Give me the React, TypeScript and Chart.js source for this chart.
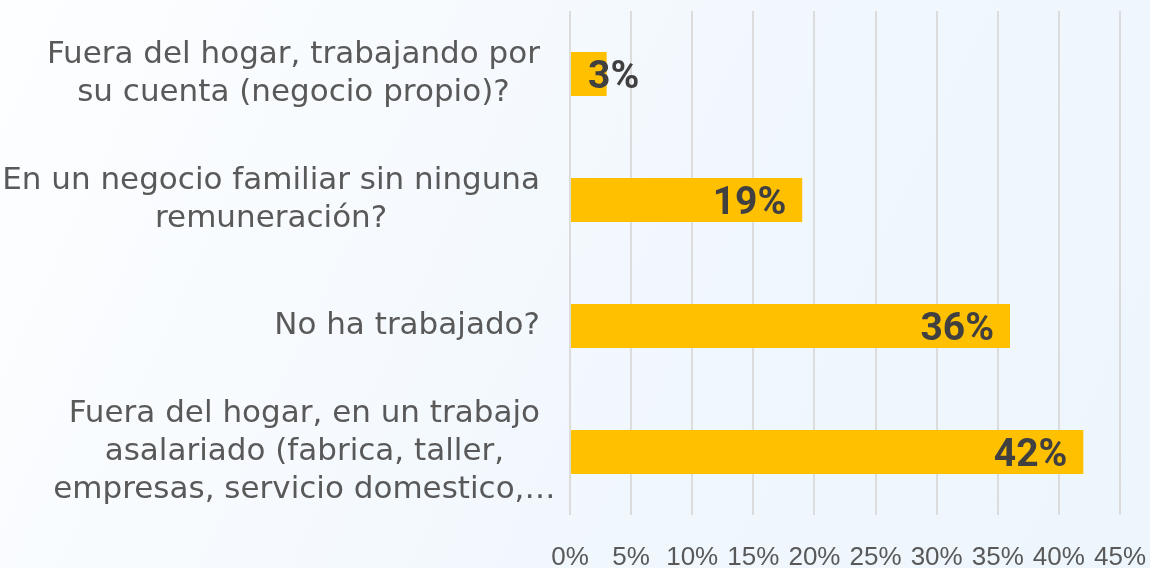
import { useEffect, useRef } from "react";
import { Chart, registerables } from "chart.js";

Chart.register(...registerables);

const categories: string[][] = [
  ["Fuera del hogar, trabajando por", "su cuenta (negocio propio)?"],
  ["En un negocio familiar sin ninguna", "remuneración?"],
  ["No ha trabajado?"],
  ["Fuera del hogar, en un trabajo", "asalariado (fabrica, taller,", "empresas, servicio domestico,…"],
];
const values = [3, 19, 36, 42];
const axisMin = 0;
const axisMax = 45;
const axisStep = 5;
const tickSuffix = "%";

const categoryLabelPlugin = {
  id: "categoryLabels",
  afterDraw(chart: any) {
    const ctx = chart.ctx;
    const yScale = chart.scales.y;
    ctx.save();
    ctx.font = '31px "DejaVu Sans"';
    ctx.fillStyle = "#595959";
    ctx.textAlign = "center";
    ctx.textBaseline = "middle";
    const right = chart.chartArea.left - 30;
    const lineHeight = 38;
    categories.forEach((lines, i) => {
      const cy = yScale.getPixelForValue(i);
      const w = Math.max(...lines.map((l) => ctx.measureText(l.replace("…", "")).width));
      const cx = right - w / 2;
      lines.forEach((l, j) => {
        const ly = cy + (j - (lines.length - 1) / 2) * lineHeight;
        ctx.fillText(l, cx, ly);
      });
    });
    ctx.restore();
  },
};

const valueLabelPlugin = {
  id: "valueLabels",
  afterDatasetsDraw(chart: any) {
    const ctx = chart.ctx;
    const meta = chart.getDatasetMeta(0);
    ctx.save();
    ctx.font = 'bold 39px Roboto';
    ctx.fillStyle = "#404040";
    ctx.textAlign = "left";
    ctx.textBaseline = "alphabetic";
    meta.data.forEach((bar: any, i: number) => {
      const text = `${values[i]}%`;
      const w = ctx.measureText(text).width;
      let x = bar.x - 16 - w;
      if (x < bar.base + 17) x = bar.base + 17;
      ctx.fillText(text, x, bar.y + 14);
    });
    ctx.restore();
  },
};

export default function App() {
  const canvasRef = useRef<HTMLCanvasElement | null>(null);

  useEffect(() => {
    if (!canvasRef.current) return;
    const chart = new Chart(canvasRef.current, {
      type: "bar",
      data: {
        labels: categories.map((c) => c.join(" ")),
        datasets: [
          {
            data: values,
            backgroundColor: "#FFC000",
            borderWidth: 0,
            categoryPercentage: 1,
            barPercentage: 0.35,
          },
        ],
      },
      options: {
        indexAxis: "y",
        animation: false,
        responsive: true,
        maintainAspectRatio: false,
        layout: { padding: { top: 11, right: 30, left: 0, bottom: 0 } },
        plugins: {
          legend: { display: false },
          tooltip: { enabled: false },
          title: { display: false },
        },
        scales: {
          x: {
            min: axisMin,
            max: axisMax,
            ticks: {
              stepSize: axisStep,
              callback: (v: any) => `${v}${tickSuffix}`,
              font: { family: '"Liberation Sans"', size: 26 },
              color: "#595959",
              padding: 27,
              maxRotation: 0,
              autoSkip: false,
            },
            grid: { color: "#dcdcdc", lineWidth: 2, drawTicks: false },
            border: { display: false },
            afterFit: (s: any) => {
              s.height = 53;
              s.paddingLeft = 0;
              s.paddingRight = 0;
            },
          },
          y: {
            ticks: { display: false },
            grid: { display: false },
            border: { display: false },
            afterFit: (s: any) => {
              s.width = 570;
            },
          },
        },
      },
      plugins: [categoryLabelPlugin, valueLabelPlugin],
    });
    return () => chart.destroy();
  }, []);

  return (
    <div
      style={{
        position: "fixed",
        left: 0,
        top: 0,
        width: 1150,
        height: 568,
        background: "linear-gradient(115deg, #fdfeff 0%, #f6fafe 35%, #f0f7fd 60%, #eef6fd 100%)",
      }}
    >
      <canvas ref={canvasRef} />
    </div>
  );
}
